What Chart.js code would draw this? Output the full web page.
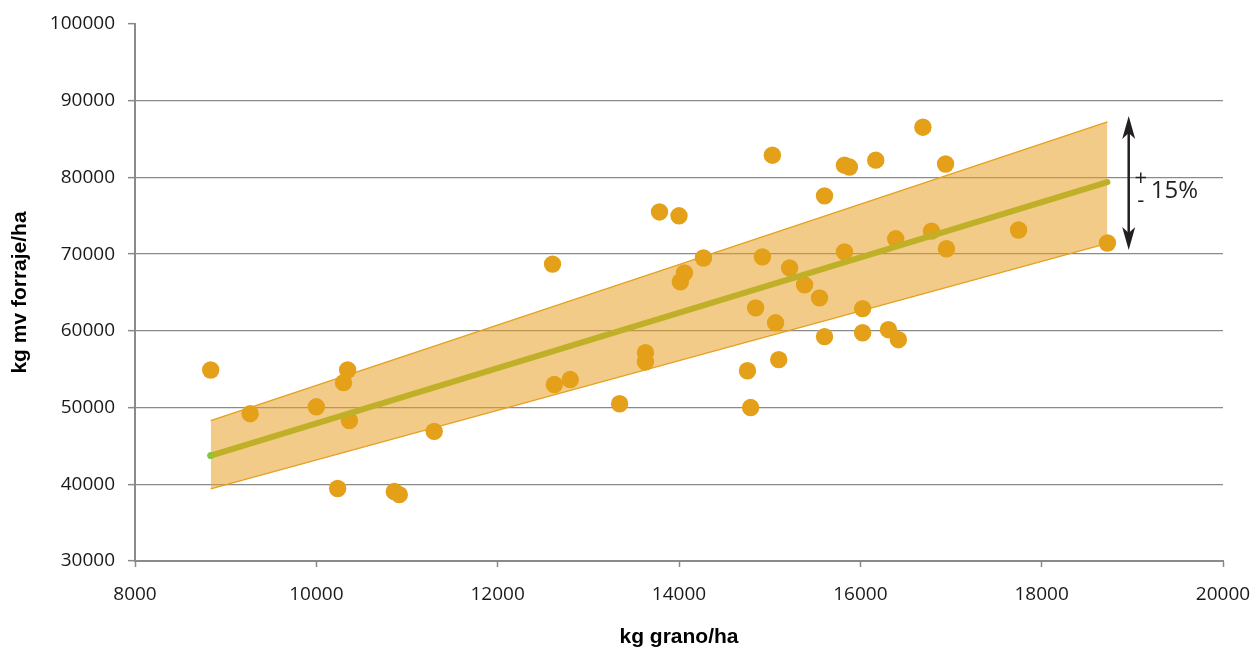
<!DOCTYPE html>
<html>
<head>
<meta charset="utf-8">
<title>kg grano/ha vs kg mv forraje/ha</title>
<script src="https://cdn.jsdelivr.net/npm/chart.js@4.4.1/dist/chart.umd.min.js"></script>
<style>
    html, body { margin: 0; padding: 0; background: #ffffff; }
    #wrap { width: 1256px; height: 652px; position: relative; }
</style>
</head>
<body>
<div id="wrap"><canvas id="plot"></canvas></div>
<script>
// grain yield (x) and forage yield (y) for each plot
let grainKg = [
    8835, 9270, 10000, 10235, 10300, 10345, 10365, 10860, 10915, 11300,
    12605, 12625, 12800, 13345, 13630, 13630, 13785, 14000, 14015, 14060,
    14270, 15030, 14920, 15220, 15385, 14845, 15065, 15550, 15605, 14755,
    14790, 15100, 15605, 16690, 15825, 15880, 16170, 16940, 16390, 16785,
    16950, 15825, 17745, 18725, 16025, 16025, 16310, 16420
]

let forageKg = [
    54900, 49200, 50100, 39450, 53250, 54900, 48300, 39050, 38650, 46900,
    68700, 53000, 53650, 50500, 57150, 55950, 75500, 75000, 66400, 67550,
    69500, 82900, 69650, 68200, 66000, 63000, 61050, 64300, 77600, 54800,
    50000, 56250, 59250, 86550, 81600, 81350, 82250, 81750, 72000, 73000,
    70700, 70300, 73150, 71450, 62900, 59750, 60150, 58850
]

// trend line and band ends
let fitX = [8835, 18725]
let fitY = [43750, 79400]
let bandUpper = [48300, 87250]
let bandLower = [39400, 71400]

// double arrow at the right with the band label
let arrowX = 18960
let arrowTop = 88000
let arrowBottom = 70550
let bandLabel = '15%'

let xTicks = [8000, 10000, 12000, 14000, 16000, 18000, 20000]
let yTicks = [30000, 40000, 50000, 60000, 70000, 80000, 90000, 100000]

let gridGray = '#8a8a8a'
let dotColor = '#e3a018'

function toPoints(xs, ys) {
    let out = []
    for (let i = 0; i < xs.length; i++) {
        out.push({ x: xs[i], y: ys[i] })
    }
    return out
}

const arrowPlugin = {
    id: 'bandArrow',
    afterDraw(chart) {
        const ctx = chart.ctx
        const xs = chart.scales.x
        const ys = chart.scales.y
        const cx = xs.getPixelForValue(arrowX)
        const top = ys.getPixelForValue(arrowTop)
        const bot = ys.getPixelForValue(arrowBottom)
        ctx.save()
        ctx.strokeStyle = '#231f20'
        ctx.fillStyle = '#231f20'
        ctx.lineWidth = 2.5
        ctx.beginPath()
        ctx.moveTo(cx, top + 10)
        ctx.lineTo(cx, bot - 10)
        ctx.stroke()
        // heads
        ctx.beginPath()
        ctx.moveTo(cx, top)
        ctx.lineTo(cx + 6.5, top + 23)
        ctx.lineTo(cx, top + 17)
        ctx.lineTo(cx - 6.5, top + 23)
        ctx.closePath()
        ctx.fill()
        ctx.beginPath()
        ctx.moveTo(cx, bot)
        ctx.lineTo(cx + 6.5, bot - 23)
        ctx.lineTo(cx, bot - 17)
        ctx.lineTo(cx - 6.5, bot - 23)
        ctx.closePath()
        ctx.fill()
        // +/- label
        const mid = (top + bot) / 2
        ctx.textBaseline = 'middle'
        ctx.textAlign = 'center'
        ctx.font = "22px 'Open Sans', sans-serif"
        ctx.fillText('+', cx + 12, mid - 4)
        ctx.fillText('-', cx + 12, mid + 18)
        ctx.textAlign = 'left'
        ctx.font = "24px 'Open Sans', sans-serif"
        ctx.fillText(bandLabel, cx + 22, mid + 8)
        ctx.restore()
    }
}

function plotYieldChart(canvas) {
    const ctx = canvas.getContext('2d')
    Chart.defaults.font.family = "'Open Sans', sans-serif"
    Chart.defaults.color = '#1a1a1a'

    const myChart = new Chart(ctx, {
        type: 'scatter',
        data: {
            datasets: [
                {
                    label: 'banda sup',
                    data: toPoints(fitX, bandUpper),
                    showLine: true,
                    borderColor: '#e8a020',
                    borderWidth: 1.3,
                    pointRadius: 0,
                    backgroundColor: 'rgba(232, 160, 40, 0.55)',
                    fill: '+1',
                    order: 3
                },
                {
                    label: 'banda inf',
                    data: toPoints(fitX, bandLower),
                    showLine: true,
                    borderColor: '#e8a020',
                    borderWidth: 1.3,
                    pointRadius: 0,
                    fill: false,
                    order: 3
                },
                {
                    label: 'datos',
                    data: toPoints(grainKg, forageKg),
                    backgroundColor: dotColor,
                    borderWidth: 0,
                    pointRadius: 8.7,
                    pointHoverRadius: 8.7,
                    order: 2
                },
                {
                    label: 'tendencia',
                    data: toPoints(fitX, fitY),
                    showLine: true,
                    borderColor: '#bfb027',
                    borderWidth: 6,
                    borderCapStyle: 'round',
                    pointRadius: [3.5, 0],
                    pointBackgroundColor: '#8cc43c',
                    pointBorderWidth: 0,
                    fill: false,
                    order: 1
                }
            ]
        },
        options: {
            responsive: true,
            maintainAspectRatio: false,
            animation: false,
            layout: { padding: { top: 24, right: 33, left: 0, bottom: 0 } },
            plugins: {
                legend: { display: false },
                tooltip: { enabled: false }
            },
            scales: {
                x: {
                    type: 'linear',
                    min: xTicks[0],
                    max: xTicks[xTicks.length - 1],
                    afterBuildTicks: (scale) => { scale.ticks = xTicks.map(v => ({ value: v })) },
                    afterFit: (scale) => {
                        scale.height = 91
                        scale.paddingLeft = 0
                        scale.paddingRight = 0
                    },
                    border: { display: true, color: gridGray, width: 2 },
                    grid: {
                        drawOnChartArea: false,
                        drawTicks: true,
                        tickLength: 6,
                        tickColor: gridGray,
                        tickWidth: 1.5
                    },
                    ticks: {
                        padding: 16,
                        font: { size: 19 },
                        callback: (v) => String(v)
                    },
                    title: {
                        display: true,
                        text: 'kg grano/ha',
                        font: { family: "'Liberation Sans', Arial, sans-serif", size: 21, weight: 'bold' },
                        color: '#000000',
                        padding: { top: 0, bottom: 2 }
                    }
                },
                y: {
                    type: 'linear',
                    min: yTicks[0],
                    max: yTicks[yTicks.length - 1],
                    afterBuildTicks: (scale) => { scale.ticks = yTicks.map(v => ({ value: v })) },
                    afterFit: (scale) => {
                        scale.width = 135
                        scale.paddingTop = 0
                        scale.paddingBottom = 0
                    },
                    border: { display: true, color: gridGray, width: 2 },
                    grid: {
                        color: (c) => (c.tick && c.tick.value === 100000) ? 'rgba(0,0,0,0)' : gridGray,
                        lineWidth: 1.3,
                        drawTicks: true,
                        tickLength: 7,
                        tickColor: gridGray,
                        tickWidth: 1.5
                    },
                    ticks: {
                        padding: 13,
                        font: { size: 19 },
                        callback: (v) => String(v)
                    },
                    title: {
                        display: true,
                        text: 'kg mv forraje/ha',
                        font: { family: "'Liberation Sans', Arial, sans-serif", size: 21, weight: 'bold' },
                        color: '#000000',
                        padding: { top: 8, bottom: 0 }
                    }
                }
            }
        },
        plugins: [arrowPlugin]
    })

    return myChart
}

plotYieldChart(document.getElementById('plot'))
</script>
</body>
</html>
